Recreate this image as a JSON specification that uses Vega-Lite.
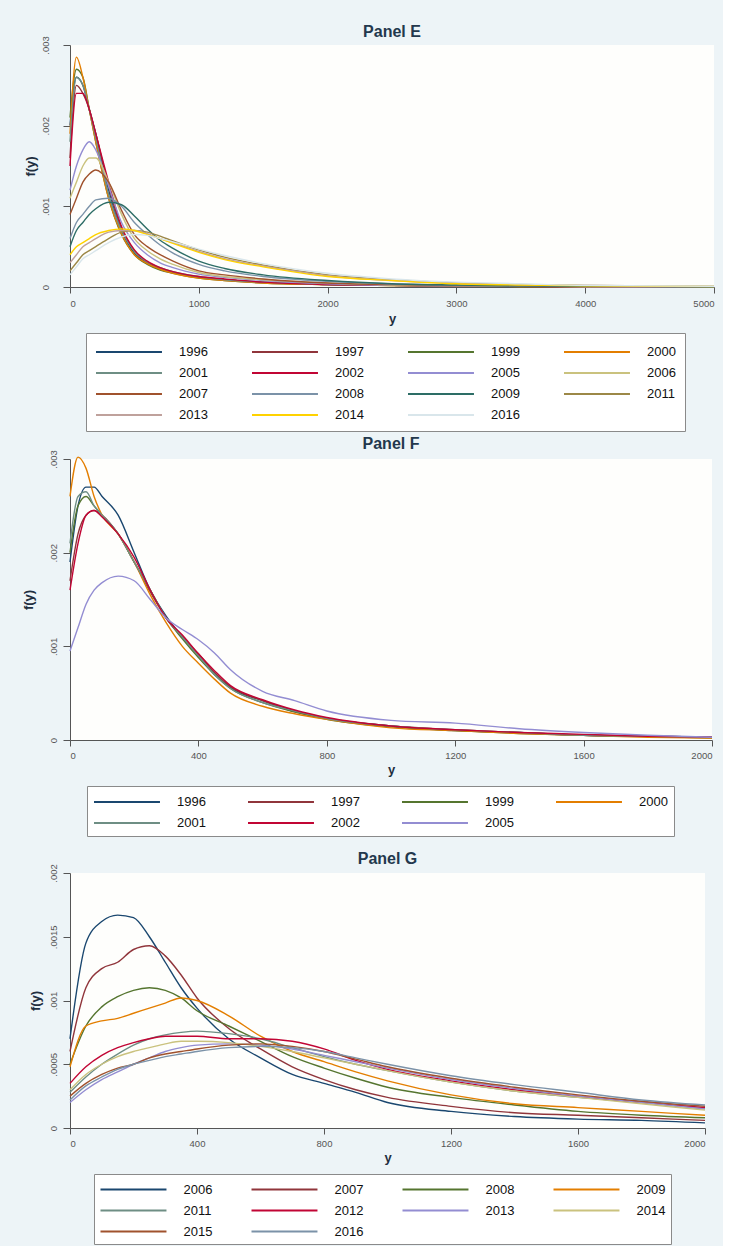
{
  "$schema": "https://vega.github.io/schema/vega-lite/v6.json",
  "background": "#edf4f7",
  "padding": {"left": 22, "top": 23, "right": 6, "bottom": 1},
  "config": {
    "font": "Liberation Sans",
    "view": {"stroke": null, "fill": "#fefefc"},
    "axis": {"grid": false, "domainColor": "#555555", "tickColor": "#555555", "labelColor": "#555555", "labelFontSize": 9.5, "titleFontSize": 13, "titleFontWeight": "bold", "titleColor": "#1f2f40", "tickSize": 6},
    "title": {"fontSize": 16, "fontWeight": "bold", "color": "#23384d", "anchor": "middle"},
    "legend": {"symbolType": "M-1,0H6.33", "symbolSize": 324, "symbolStrokeWidth": 1.8, "labelFontSize": 13, "labelColor": "#111111", "labelOffset": 64, "columns": 4, "direction": "horizontal", "rowPadding": 4, "padding": 5, "strokeColor": "#8a8a8a", "fillColor": "#ffffff", "title": null, "orient": "none"}
  },
  "datasets": {
    "E": [
      {"yr":"1996","x":0,"f":0.0020},{"yr":"1996","x":50,"f":0.0026},{"yr":"1996","x":100,"f":0.0025},{"yr":"1996","x":150,"f":0.0022},{"yr":"1996","x":200,"f":0.0019},{"yr":"1996","x":300,"f":0.0012},{"yr":"1996","x":400,"f":0.0007},{"yr":"1996","x":500,"f":0.00042},{"yr":"1996","x":600,"f":0.0003},{"yr":"1996","x":700,"f":0.00022},{"yr":"1996","x":800,"f":0.00018},{"yr":"1996","x":1000,"f":0.00012},{"yr":"1996","x":1200,"f":0.00009},{"yr":"1996","x":1500,"f":0.00006},{"yr":"1996","x":2000,"f":0.00003},{"yr":"1996","x":2500,"f":0.00002},{"yr":"1996","x":3000,"f":0.000012},{"yr":"1996","x":3500,"f":0.000008},{"yr":"1996","x":4000,"f":0.000005},{"yr":"1996","x":5000,"f":0.000002},
      {"yr":"1997","x":0,"f":0.0016},{"yr":"1997","x":50,"f":0.0025},{"yr":"1997","x":100,"f":0.0024},{"yr":"1997","x":150,"f":0.0022},{"yr":"1997","x":200,"f":0.0019},{"yr":"1997","x":300,"f":0.00125},{"yr":"1997","x":400,"f":0.00072},{"yr":"1997","x":500,"f":0.00045},{"yr":"1997","x":600,"f":0.0003},{"yr":"1997","x":700,"f":0.00023},{"yr":"1997","x":800,"f":0.00018},{"yr":"1997","x":1000,"f":0.00012},{"yr":"1997","x":1200,"f":0.00009},{"yr":"1997","x":1500,"f":0.00006},{"yr":"1997","x":2000,"f":0.00003},{"yr":"1997","x":2500,"f":0.00002},{"yr":"1997","x":3000,"f":0.000012},{"yr":"1997","x":3500,"f":0.000008},{"yr":"1997","x":4000,"f":0.000005},{"yr":"1997","x":5000,"f":0.000002},
      {"yr":"1999","x":0,"f":0.0021},{"yr":"1999","x":50,"f":0.0027},{"yr":"1999","x":100,"f":0.0026},{"yr":"1999","x":150,"f":0.0022},{"yr":"1999","x":200,"f":0.0018},{"yr":"1999","x":300,"f":0.0011},{"yr":"1999","x":400,"f":0.00065},{"yr":"1999","x":500,"f":0.0004},{"yr":"1999","x":600,"f":0.00028},{"yr":"1999","x":700,"f":0.00021},{"yr":"1999","x":800,"f":0.00017},{"yr":"1999","x":1000,"f":0.00011},{"yr":"1999","x":1200,"f":0.00008},{"yr":"1999","x":1500,"f":0.00005},{"yr":"1999","x":2000,"f":0.00003},{"yr":"1999","x":2500,"f":0.000018},{"yr":"1999","x":3000,"f":0.00001},{"yr":"1999","x":3500,"f":0.000007},{"yr":"1999","x":4000,"f":0.000004},{"yr":"1999","x":5000,"f":0.000002},
      {"yr":"2000","x":0,"f":0.0019},{"yr":"2000","x":50,"f":0.00285},{"yr":"2000","x":100,"f":0.0026},{"yr":"2000","x":150,"f":0.0022},{"yr":"2000","x":200,"f":0.0018},{"yr":"2000","x":300,"f":0.0011},{"yr":"2000","x":400,"f":0.00066},{"yr":"2000","x":500,"f":0.0004},{"yr":"2000","x":600,"f":0.00029},{"yr":"2000","x":700,"f":0.00022},{"yr":"2000","x":800,"f":0.00017},{"yr":"2000","x":1000,"f":0.00011},{"yr":"2000","x":1200,"f":0.00008},{"yr":"2000","x":1500,"f":0.00005},{"yr":"2000","x":2000,"f":0.00003},{"yr":"2000","x":2500,"f":0.000018},{"yr":"2000","x":3000,"f":0.00001},{"yr":"2000","x":3500,"f":0.000007},{"yr":"2000","x":4000,"f":0.000004},{"yr":"2000","x":5000,"f":0.000002},
      {"yr":"2001","x":0,"f":0.0018},{"yr":"2001","x":50,"f":0.0026},{"yr":"2001","x":100,"f":0.0025},{"yr":"2001","x":150,"f":0.0022},{"yr":"2001","x":200,"f":0.00185},{"yr":"2001","x":300,"f":0.00115},{"yr":"2001","x":400,"f":0.0007},{"yr":"2001","x":500,"f":0.00044},{"yr":"2001","x":600,"f":0.00031},{"yr":"2001","x":700,"f":0.00024},{"yr":"2001","x":800,"f":0.00019},{"yr":"2001","x":1000,"f":0.00013},{"yr":"2001","x":1200,"f":0.00009},{"yr":"2001","x":1500,"f":0.00006},{"yr":"2001","x":2000,"f":0.00003},{"yr":"2001","x":2500,"f":0.00002},{"yr":"2001","x":3000,"f":0.000012},{"yr":"2001","x":3500,"f":0.000008},{"yr":"2001","x":4000,"f":0.000005},{"yr":"2001","x":5000,"f":0.000002},
      {"yr":"2002","x":0,"f":0.0015},{"yr":"2002","x":50,"f":0.0024},{"yr":"2002","x":100,"f":0.0024},{"yr":"2002","x":150,"f":0.0022},{"yr":"2002","x":200,"f":0.0019},{"yr":"2002","x":300,"f":0.0013},{"yr":"2002","x":400,"f":0.00075},{"yr":"2002","x":500,"f":0.00046},{"yr":"2002","x":600,"f":0.00032},{"yr":"2002","x":700,"f":0.00024},{"yr":"2002","x":800,"f":0.00019},{"yr":"2002","x":1000,"f":0.00013},{"yr":"2002","x":1200,"f":0.0001},{"yr":"2002","x":1500,"f":0.00006},{"yr":"2002","x":2000,"f":0.00003},{"yr":"2002","x":2500,"f":0.00002},{"yr":"2002","x":3000,"f":0.000012},{"yr":"2002","x":3500,"f":0.000008},{"yr":"2002","x":4000,"f":0.000005},{"yr":"2002","x":5000,"f":0.000002},
      {"yr":"2005","x":0,"f":0.0012},{"yr":"2005","x":50,"f":0.0015},{"yr":"2005","x":100,"f":0.0017},{"yr":"2005","x":150,"f":0.0018},{"yr":"2005","x":200,"f":0.0017},{"yr":"2005","x":300,"f":0.00125},{"yr":"2005","x":400,"f":0.0008},{"yr":"2005","x":500,"f":0.00055},{"yr":"2005","x":600,"f":0.0004},{"yr":"2005","x":700,"f":0.0003},{"yr":"2005","x":800,"f":0.00024},{"yr":"2005","x":1000,"f":0.00016},{"yr":"2005","x":1200,"f":0.00012},{"yr":"2005","x":1500,"f":0.00008},{"yr":"2005","x":2000,"f":0.00004},{"yr":"2005","x":2500,"f":0.00002},{"yr":"2005","x":3000,"f":0.000015},{"yr":"2005","x":3500,"f":0.00001},{"yr":"2005","x":4000,"f":0.000006},{"yr":"2005","x":5000,"f":0.000002},
      {"yr":"2006","x":0,"f":0.0011},{"yr":"2006","x":50,"f":0.0013},{"yr":"2006","x":100,"f":0.0015},{"yr":"2006","x":150,"f":0.0016},{"yr":"2006","x":200,"f":0.0016},{"yr":"2006","x":300,"f":0.0013},{"yr":"2006","x":400,"f":0.0009},{"yr":"2006","x":500,"f":0.0006},{"yr":"2006","x":600,"f":0.00045},{"yr":"2006","x":700,"f":0.00035},{"yr":"2006","x":800,"f":0.00028},{"yr":"2006","x":1000,"f":0.00018},{"yr":"2006","x":1200,"f":0.00013},{"yr":"2006","x":1500,"f":0.00009},{"yr":"2006","x":2000,"f":0.00005},{"yr":"2006","x":2500,"f":0.000025},{"yr":"2006","x":3000,"f":0.000015},{"yr":"2006","x":3500,"f":0.00001},{"yr":"2006","x":4000,"f":0.000007},{"yr":"2006","x":5000,"f":0.000003},
      {"yr":"2007","x":0,"f":0.0009},{"yr":"2007","x":50,"f":0.0011},{"yr":"2007","x":100,"f":0.0013},{"yr":"2007","x":150,"f":0.0014},{"yr":"2007","x":200,"f":0.00145},{"yr":"2007","x":300,"f":0.0013},{"yr":"2007","x":400,"f":0.00095},{"yr":"2007","x":500,"f":0.00065},{"yr":"2007","x":600,"f":0.0005},{"yr":"2007","x":700,"f":0.0004},{"yr":"2007","x":800,"f":0.00032},{"yr":"2007","x":1000,"f":0.0002},{"yr":"2007","x":1200,"f":0.00015},{"yr":"2007","x":1500,"f":0.0001},{"yr":"2007","x":2000,"f":0.00005},{"yr":"2007","x":2500,"f":0.00003},{"yr":"2007","x":3000,"f":0.000018},{"yr":"2007","x":3500,"f":0.000012},{"yr":"2007","x":4000,"f":0.000008},{"yr":"2007","x":5000,"f":0.000003},
      {"yr":"2008","x":0,"f":0.0006},{"yr":"2008","x":50,"f":0.0008},{"yr":"2008","x":100,"f":0.0009},{"yr":"2008","x":150,"f":0.001},{"yr":"2008","x":200,"f":0.00108},{"yr":"2008","x":300,"f":0.0011},{"yr":"2008","x":400,"f":0.001},{"yr":"2008","x":500,"f":0.0008},{"yr":"2008","x":600,"f":0.00065},{"yr":"2008","x":700,"f":0.00052},{"yr":"2008","x":800,"f":0.00042},{"yr":"2008","x":1000,"f":0.00028},{"yr":"2008","x":1200,"f":0.0002},{"yr":"2008","x":1500,"f":0.00013},{"yr":"2008","x":2000,"f":0.00007},{"yr":"2008","x":2500,"f":0.00004},{"yr":"2008","x":3000,"f":0.00002},{"yr":"2008","x":3500,"f":0.000014},{"yr":"2008","x":4000,"f":0.000009},{"yr":"2008","x":5000,"f":0.000004},
      {"yr":"2009","x":0,"f":0.0005},{"yr":"2009","x":50,"f":0.0007},{"yr":"2009","x":100,"f":0.0008},{"yr":"2009","x":150,"f":0.0009},{"yr":"2009","x":200,"f":0.00097},{"yr":"2009","x":300,"f":0.00105},{"yr":"2009","x":400,"f":0.00102},{"yr":"2009","x":500,"f":0.00088},{"yr":"2009","x":600,"f":0.00072},{"yr":"2009","x":700,"f":0.00058},{"yr":"2009","x":800,"f":0.00048},{"yr":"2009","x":1000,"f":0.00032},{"yr":"2009","x":1200,"f":0.00023},{"yr":"2009","x":1500,"f":0.00015},{"yr":"2009","x":2000,"f":0.00008},{"yr":"2009","x":2500,"f":0.00004},{"yr":"2009","x":3000,"f":0.000025},{"yr":"2009","x":3500,"f":0.000015},{"yr":"2009","x":4000,"f":0.00001},{"yr":"2009","x":5000,"f":0.000004},
      {"yr":"2011","x":0,"f":0.0002},{"yr":"2011","x":50,"f":0.0003},{"yr":"2011","x":100,"f":0.0004},{"yr":"2011","x":150,"f":0.00045},{"yr":"2011","x":200,"f":0.0005},{"yr":"2011","x":300,"f":0.0006},{"yr":"2011","x":400,"f":0.00068},{"yr":"2011","x":500,"f":0.0007},{"yr":"2011","x":600,"f":0.00068},{"yr":"2011","x":700,"f":0.00063},{"yr":"2011","x":800,"f":0.00057},{"yr":"2011","x":1000,"f":0.00046},{"yr":"2011","x":1200,"f":0.00037},{"yr":"2011","x":1500,"f":0.00027},{"yr":"2011","x":2000,"f":0.00015},{"yr":"2011","x":2500,"f":0.00009},{"yr":"2011","x":3000,"f":0.00005},{"yr":"2011","x":3500,"f":0.00003},{"yr":"2011","x":4000,"f":0.00002},{"yr":"2011","x":5000,"f":0.00001},
      {"yr":"2013","x":0,"f":0.0003},{"yr":"2013","x":50,"f":0.0004},{"yr":"2013","x":100,"f":0.0005},{"yr":"2013","x":150,"f":0.00055},{"yr":"2013","x":200,"f":0.0006},{"yr":"2013","x":300,"f":0.00068},{"yr":"2013","x":400,"f":0.0007},{"yr":"2013","x":500,"f":0.0007},{"yr":"2013","x":600,"f":0.00066},{"yr":"2013","x":700,"f":0.0006},{"yr":"2013","x":800,"f":0.00055},{"yr":"2013","x":1000,"f":0.00044},{"yr":"2013","x":1200,"f":0.00035},{"yr":"2013","x":1500,"f":0.00026},{"yr":"2013","x":2000,"f":0.00014},{"yr":"2013","x":2500,"f":0.00008},{"yr":"2013","x":3000,"f":0.000045},{"yr":"2013","x":3500,"f":0.000028},{"yr":"2013","x":4000,"f":0.000018},{"yr":"2013","x":5000,"f":0.000008},
      {"yr":"2014","x":0,"f":0.0004},{"yr":"2014","x":50,"f":0.0005},{"yr":"2014","x":100,"f":0.00055},{"yr":"2014","x":150,"f":0.0006},{"yr":"2014","x":200,"f":0.00065},{"yr":"2014","x":300,"f":0.0007},{"yr":"2014","x":400,"f":0.00072},{"yr":"2014","x":500,"f":0.0007},{"yr":"2014","x":600,"f":0.00065},{"yr":"2014","x":700,"f":0.0006},{"yr":"2014","x":800,"f":0.00054},{"yr":"2014","x":1000,"f":0.00043},{"yr":"2014","x":1200,"f":0.00034},{"yr":"2014","x":1500,"f":0.00025},{"yr":"2014","x":2000,"f":0.00013},{"yr":"2014","x":2500,"f":0.00008},{"yr":"2014","x":3000,"f":0.00004},{"yr":"2014","x":3500,"f":0.000025},{"yr":"2014","x":4000,"f":0.000016},{"yr":"2014","x":5000,"f":0.000007},
      {"yr":"2016","x":0,"f":0.00015},{"yr":"2016","x":50,"f":0.00025},{"yr":"2016","x":100,"f":0.00035},{"yr":"2016","x":150,"f":0.0004},{"yr":"2016","x":200,"f":0.00045},{"yr":"2016","x":300,"f":0.00055},{"yr":"2016","x":400,"f":0.00062},{"yr":"2016","x":500,"f":0.00065},{"yr":"2016","x":600,"f":0.00064},{"yr":"2016","x":700,"f":0.0006},{"yr":"2016","x":800,"f":0.00056},{"yr":"2016","x":1000,"f":0.00047},{"yr":"2016","x":1200,"f":0.00039},{"yr":"2016","x":1500,"f":0.00029},{"yr":"2016","x":2000,"f":0.00017},{"yr":"2016","x":2500,"f":0.0001},{"yr":"2016","x":3000,"f":0.00006},{"yr":"2016","x":3500,"f":0.00004},{"yr":"2016","x":4000,"f":0.00002},{"yr":"2016","x":5000,"f":0.00001}
    ],
    "F": [
      {"yr":"1996","x":0,"f":0.0019},{"yr":"1996","x":25,"f":0.0025},{"yr":"1996","x":50,"f":0.0027},{"yr":"1996","x":75,"f":0.0027},{"yr":"1996","x":100,"f":0.0026},{"yr":"1996","x":150,"f":0.0024},{"yr":"1996","x":200,"f":0.002},{"yr":"1996","x":250,"f":0.0016},{"yr":"1996","x":300,"f":0.00132},{"yr":"1996","x":350,"f":0.0011},{"yr":"1996","x":400,"f":0.0009},{"yr":"1996","x":450,"f":0.0007},{"yr":"1996","x":500,"f":0.00056},{"yr":"1996","x":600,"f":0.00042},{"yr":"1996","x":700,"f":0.00031},{"yr":"1996","x":800,"f":0.00023},{"yr":"1996","x":1000,"f":0.00015},{"yr":"1996","x":1200,"f":0.0001},{"yr":"1996","x":1400,"f":0.00008},{"yr":"1996","x":1600,"f":0.00005},{"yr":"1996","x":1800,"f":0.00004},{"yr":"1996","x":2000,"f":0.00003},
      {"yr":"1997","x":0,"f":0.0017},{"yr":"1997","x":25,"f":0.0022},{"yr":"1997","x":50,"f":0.0024},{"yr":"1997","x":75,"f":0.00245},{"yr":"1997","x":100,"f":0.0024},{"yr":"1997","x":150,"f":0.0022},{"yr":"1997","x":200,"f":0.0019},{"yr":"1997","x":250,"f":0.00158},{"yr":"1997","x":300,"f":0.0013},{"yr":"1997","x":350,"f":0.0011},{"yr":"1997","x":400,"f":0.00092},{"yr":"1997","x":450,"f":0.00072},{"yr":"1997","x":500,"f":0.00057},{"yr":"1997","x":600,"f":0.00042},{"yr":"1997","x":700,"f":0.0003},{"yr":"1997","x":800,"f":0.00023},{"yr":"1997","x":1000,"f":0.00015},{"yr":"1997","x":1200,"f":0.00011},{"yr":"1997","x":1400,"f":0.00008},{"yr":"1997","x":1600,"f":0.00005},{"yr":"1997","x":1800,"f":0.00004},{"yr":"1997","x":2000,"f":0.00003},
      {"yr":"1999","x":0,"f":0.002},{"yr":"1999","x":25,"f":0.0025},{"yr":"1999","x":50,"f":0.0026},{"yr":"1999","x":75,"f":0.0025},{"yr":"1999","x":100,"f":0.0024},{"yr":"1999","x":150,"f":0.0022},{"yr":"1999","x":200,"f":0.0019},{"yr":"1999","x":250,"f":0.0016},{"yr":"1999","x":300,"f":0.0013},{"yr":"1999","x":350,"f":0.00108},{"yr":"1999","x":400,"f":0.00088},{"yr":"1999","x":450,"f":0.0007},{"yr":"1999","x":500,"f":0.00055},{"yr":"1999","x":600,"f":0.0004},{"yr":"1999","x":700,"f":0.0003},{"yr":"1999","x":800,"f":0.00022},{"yr":"1999","x":1000,"f":0.00014},{"yr":"1999","x":1200,"f":0.0001},{"yr":"1999","x":1400,"f":0.00007},{"yr":"1999","x":1600,"f":0.00005},{"yr":"1999","x":1800,"f":0.00004},{"yr":"1999","x":2000,"f":0.00002},
      {"yr":"2000","x":0,"f":0.0026},{"yr":"2000","x":25,"f":0.00302},{"yr":"2000","x":50,"f":0.0029},{"yr":"2000","x":75,"f":0.0026},{"yr":"2000","x":100,"f":0.0024},{"yr":"2000","x":150,"f":0.0022},{"yr":"2000","x":200,"f":0.0019},{"yr":"2000","x":250,"f":0.00155},{"yr":"2000","x":300,"f":0.00125},{"yr":"2000","x":350,"f":0.001},{"yr":"2000","x":400,"f":0.00082},{"yr":"2000","x":450,"f":0.00065},{"yr":"2000","x":500,"f":0.0005},{"yr":"2000","x":600,"f":0.00036},{"yr":"2000","x":700,"f":0.00028},{"yr":"2000","x":800,"f":0.00022},{"yr":"2000","x":1000,"f":0.00013},{"yr":"2000","x":1200,"f":0.0001},{"yr":"2000","x":1400,"f":0.00007},{"yr":"2000","x":1600,"f":0.00005},{"yr":"2000","x":1800,"f":0.00003},{"yr":"2000","x":2000,"f":0.00002},
      {"yr":"2001","x":0,"f":0.0021},{"yr":"2001","x":25,"f":0.0026},{"yr":"2001","x":50,"f":0.00265},{"yr":"2001","x":75,"f":0.0025},{"yr":"2001","x":100,"f":0.0024},{"yr":"2001","x":150,"f":0.0022},{"yr":"2001","x":200,"f":0.0019},{"yr":"2001","x":250,"f":0.0016},{"yr":"2001","x":300,"f":0.0013},{"yr":"2001","x":350,"f":0.0011},{"yr":"2001","x":400,"f":0.0009},{"yr":"2001","x":450,"f":0.0007},{"yr":"2001","x":500,"f":0.00055},{"yr":"2001","x":600,"f":0.0004},{"yr":"2001","x":700,"f":0.00031},{"yr":"2001","x":800,"f":0.00023},{"yr":"2001","x":1000,"f":0.00015},{"yr":"2001","x":1200,"f":0.00011},{"yr":"2001","x":1400,"f":0.00008},{"yr":"2001","x":1600,"f":0.00005},{"yr":"2001","x":1800,"f":0.00004},{"yr":"2001","x":2000,"f":0.00003},
      {"yr":"2002","x":0,"f":0.0016},{"yr":"2002","x":25,"f":0.0021},{"yr":"2002","x":50,"f":0.0024},{"yr":"2002","x":75,"f":0.00245},{"yr":"2002","x":100,"f":0.00238},{"yr":"2002","x":150,"f":0.0022},{"yr":"2002","x":200,"f":0.00195},{"yr":"2002","x":250,"f":0.0016},{"yr":"2002","x":300,"f":0.0013},{"yr":"2002","x":350,"f":0.00112},{"yr":"2002","x":400,"f":0.00092},{"yr":"2002","x":450,"f":0.00074},{"yr":"2002","x":500,"f":0.00058},{"yr":"2002","x":600,"f":0.00043},{"yr":"2002","x":700,"f":0.00032},{"yr":"2002","x":800,"f":0.00024},{"yr":"2002","x":1000,"f":0.00015},{"yr":"2002","x":1200,"f":0.00011},{"yr":"2002","x":1400,"f":0.00008},{"yr":"2002","x":1600,"f":0.00006},{"yr":"2002","x":1800,"f":0.00004},{"yr":"2002","x":2000,"f":0.00003},
      {"yr":"2005","x":0,"f":0.00095},{"yr":"2005","x":25,"f":0.0012},{"yr":"2005","x":50,"f":0.00145},{"yr":"2005","x":75,"f":0.0016},{"yr":"2005","x":100,"f":0.00168},{"yr":"2005","x":150,"f":0.00175},{"yr":"2005","x":200,"f":0.0017},{"yr":"2005","x":250,"f":0.0015},{"yr":"2005","x":300,"f":0.0013},{"yr":"2005","x":350,"f":0.00118},{"yr":"2005","x":400,"f":0.00107},{"yr":"2005","x":450,"f":0.00093},{"yr":"2005","x":500,"f":0.00075},{"yr":"2005","x":600,"f":0.00052},{"yr":"2005","x":700,"f":0.00042},{"yr":"2005","x":800,"f":0.00031},{"yr":"2005","x":1000,"f":0.00021},{"yr":"2005","x":1200,"f":0.00018},{"yr":"2005","x":1400,"f":0.00012},{"yr":"2005","x":1600,"f":0.00008},{"yr":"2005","x":1800,"f":0.00005},{"yr":"2005","x":2000,"f":0.00003}
    ],
    "G": [
      {"yr":"2006","x":0,"f":0.0007},{"yr":"2006","x":50,"f":0.00145},{"yr":"2006","x":100,"f":0.00162},{"yr":"2006","x":150,"f":0.00167},{"yr":"2006","x":200,"f":0.00165},{"yr":"2006","x":250,"f":0.0015},{"yr":"2006","x":300,"f":0.0013},{"yr":"2006","x":350,"f":0.0011},{"yr":"2006","x":400,"f":0.00094},{"yr":"2006","x":500,"f":0.0007},{"yr":"2006","x":600,"f":0.00055},{"yr":"2006","x":700,"f":0.00042},{"yr":"2006","x":800,"f":0.00035},{"yr":"2006","x":900,"f":0.00028},{"yr":"2006","x":1000,"f":0.0002},{"yr":"2006","x":1200,"f":0.00013},{"yr":"2006","x":1400,"f":0.00009},{"yr":"2006","x":1600,"f":0.00007},{"yr":"2006","x":1800,"f":0.00006},{"yr":"2006","x":2000,"f":0.00004},
      {"yr":"2007","x":0,"f":0.0006},{"yr":"2007","x":50,"f":0.0011},{"yr":"2007","x":100,"f":0.00125},{"yr":"2007","x":150,"f":0.0013},{"yr":"2007","x":200,"f":0.0014},{"yr":"2007","x":250,"f":0.00143},{"yr":"2007","x":300,"f":0.00135},{"yr":"2007","x":350,"f":0.0012},{"yr":"2007","x":400,"f":0.00102},{"yr":"2007","x":500,"f":0.00078},{"yr":"2007","x":600,"f":0.00062},{"yr":"2007","x":700,"f":0.00048},{"yr":"2007","x":800,"f":0.00038},{"yr":"2007","x":900,"f":0.0003},{"yr":"2007","x":1000,"f":0.00024},{"yr":"2007","x":1200,"f":0.00017},{"yr":"2007","x":1400,"f":0.00012},{"yr":"2007","x":1600,"f":0.0001},{"yr":"2007","x":1800,"f":0.00008},{"yr":"2007","x":2000,"f":0.00006},
      {"yr":"2008","x":0,"f":0.0005},{"yr":"2008","x":50,"f":0.0008},{"yr":"2008","x":100,"f":0.00095},{"yr":"2008","x":150,"f":0.00103},{"yr":"2008","x":200,"f":0.00108},{"yr":"2008","x":250,"f":0.0011},{"yr":"2008","x":300,"f":0.00108},{"yr":"2008","x":350,"f":0.00102},{"yr":"2008","x":400,"f":0.00092},{"yr":"2008","x":500,"f":0.0008},{"yr":"2008","x":600,"f":0.00068},{"yr":"2008","x":700,"f":0.00056},{"yr":"2008","x":800,"f":0.00047},{"yr":"2008","x":900,"f":0.00039},{"yr":"2008","x":1000,"f":0.00032},{"yr":"2008","x":1200,"f":0.00024},{"yr":"2008","x":1400,"f":0.00018},{"yr":"2008","x":1600,"f":0.00013},{"yr":"2008","x":1800,"f":0.0001},{"yr":"2008","x":2000,"f":0.00008},
      {"yr":"2009","x":0,"f":0.00048},{"yr":"2009","x":50,"f":0.0008},{"yr":"2009","x":100,"f":0.00084},{"yr":"2009","x":150,"f":0.00086},{"yr":"2009","x":200,"f":0.0009},{"yr":"2009","x":250,"f":0.00094},{"yr":"2009","x":300,"f":0.00098},{"yr":"2009","x":350,"f":0.00102},{"yr":"2009","x":400,"f":0.001},{"yr":"2009","x":500,"f":0.00088},{"yr":"2009","x":600,"f":0.00072},{"yr":"2009","x":700,"f":0.0006},{"yr":"2009","x":800,"f":0.00052},{"yr":"2009","x":900,"f":0.00044},{"yr":"2009","x":1000,"f":0.00037},{"yr":"2009","x":1200,"f":0.00026},{"yr":"2009","x":1400,"f":0.00019},{"yr":"2009","x":1600,"f":0.00016},{"yr":"2009","x":1800,"f":0.00013},{"yr":"2009","x":2000,"f":0.0001},
      {"yr":"2011","x":0,"f":0.00028},{"yr":"2011","x":50,"f":0.0004},{"yr":"2011","x":100,"f":0.0005},{"yr":"2011","x":150,"f":0.00058},{"yr":"2011","x":200,"f":0.00065},{"yr":"2011","x":250,"f":0.0007},{"yr":"2011","x":300,"f":0.00073},{"yr":"2011","x":350,"f":0.00075},{"yr":"2011","x":400,"f":0.00076},{"yr":"2011","x":500,"f":0.00074},{"yr":"2011","x":600,"f":0.0007},{"yr":"2011","x":700,"f":0.00063},{"yr":"2011","x":800,"f":0.00056},{"yr":"2011","x":900,"f":0.0005},{"yr":"2011","x":1000,"f":0.00045},{"yr":"2011","x":1200,"f":0.00036},{"yr":"2011","x":1400,"f":0.00029},{"yr":"2011","x":1600,"f":0.00024},{"yr":"2011","x":1800,"f":0.0002},{"yr":"2011","x":2000,"f":0.00015},
      {"yr":"2012","x":0,"f":0.00035},{"yr":"2012","x":50,"f":0.00048},{"yr":"2012","x":100,"f":0.00057},{"yr":"2012","x":150,"f":0.00063},{"yr":"2012","x":200,"f":0.00067},{"yr":"2012","x":250,"f":0.0007},{"yr":"2012","x":300,"f":0.00072},{"yr":"2012","x":350,"f":0.00072},{"yr":"2012","x":400,"f":0.00072},{"yr":"2012","x":500,"f":0.0007},{"yr":"2012","x":600,"f":0.0007},{"yr":"2012","x":700,"f":0.00068},{"yr":"2012","x":800,"f":0.00062},{"yr":"2012","x":900,"f":0.00053},{"yr":"2012","x":1000,"f":0.00046},{"yr":"2012","x":1200,"f":0.00037},{"yr":"2012","x":1400,"f":0.0003},{"yr":"2012","x":1600,"f":0.00025},{"yr":"2012","x":1800,"f":0.0002},{"yr":"2012","x":2000,"f":0.00016},
      {"yr":"2013","x":0,"f":0.0002},{"yr":"2013","x":50,"f":0.0003},{"yr":"2013","x":100,"f":0.00038},{"yr":"2013","x":150,"f":0.00044},{"yr":"2013","x":200,"f":0.0005},{"yr":"2013","x":250,"f":0.00055},{"yr":"2013","x":300,"f":0.0006},{"yr":"2013","x":350,"f":0.00063},{"yr":"2013","x":400,"f":0.00065},{"yr":"2013","x":500,"f":0.00066},{"yr":"2013","x":600,"f":0.00065},{"yr":"2013","x":700,"f":0.00062},{"yr":"2013","x":800,"f":0.00057},{"yr":"2013","x":900,"f":0.00052},{"yr":"2013","x":1000,"f":0.00047},{"yr":"2013","x":1200,"f":0.00038},{"yr":"2013","x":1400,"f":0.00031},{"yr":"2013","x":1600,"f":0.00025},{"yr":"2013","x":1800,"f":0.0002},{"yr":"2013","x":2000,"f":0.00015},
      {"yr":"2014","x":0,"f":0.0003},{"yr":"2014","x":50,"f":0.00042},{"yr":"2014","x":100,"f":0.0005},{"yr":"2014","x":150,"f":0.00056},{"yr":"2014","x":200,"f":0.0006},{"yr":"2014","x":250,"f":0.00063},{"yr":"2014","x":300,"f":0.00066},{"yr":"2014","x":350,"f":0.00068},{"yr":"2014","x":400,"f":0.00068},{"yr":"2014","x":500,"f":0.00067},{"yr":"2014","x":600,"f":0.00064},{"yr":"2014","x":700,"f":0.0006},{"yr":"2014","x":800,"f":0.00055},{"yr":"2014","x":900,"f":0.0005},{"yr":"2014","x":1000,"f":0.00045},{"yr":"2014","x":1200,"f":0.00036},{"yr":"2014","x":1400,"f":0.00029},{"yr":"2014","x":1600,"f":0.00024},{"yr":"2014","x":1800,"f":0.00019},{"yr":"2014","x":2000,"f":0.00014},
      {"yr":"2015","x":0,"f":0.00025},{"yr":"2015","x":50,"f":0.00035},{"yr":"2015","x":100,"f":0.00042},{"yr":"2015","x":150,"f":0.00047},{"yr":"2015","x":200,"f":0.0005},{"yr":"2015","x":250,"f":0.00055},{"yr":"2015","x":300,"f":0.00058},{"yr":"2015","x":350,"f":0.0006},{"yr":"2015","x":400,"f":0.00062},{"yr":"2015","x":500,"f":0.00065},{"yr":"2015","x":600,"f":0.00066},{"yr":"2015","x":700,"f":0.00064},{"yr":"2015","x":800,"f":0.0006},{"yr":"2015","x":900,"f":0.00054},{"yr":"2015","x":1000,"f":0.00048},{"yr":"2015","x":1200,"f":0.00039},{"yr":"2015","x":1400,"f":0.00032},{"yr":"2015","x":1600,"f":0.00026},{"yr":"2015","x":1800,"f":0.00021},{"yr":"2015","x":2000,"f":0.00017},
      {"yr":"2016","x":0,"f":0.00022},{"yr":"2016","x":50,"f":0.00033},{"yr":"2016","x":100,"f":0.0004},{"yr":"2016","x":150,"f":0.00046},{"yr":"2016","x":200,"f":0.0005},{"yr":"2016","x":250,"f":0.00053},{"yr":"2016","x":300,"f":0.00056},{"yr":"2016","x":350,"f":0.00058},{"yr":"2016","x":400,"f":0.0006},{"yr":"2016","x":500,"f":0.00063},{"yr":"2016","x":600,"f":0.00064},{"yr":"2016","x":700,"f":0.00063},{"yr":"2016","x":800,"f":0.0006},{"yr":"2016","x":900,"f":0.00055},{"yr":"2016","x":1000,"f":0.0005},{"yr":"2016","x":1200,"f":0.00041},{"yr":"2016","x":1400,"f":0.00034},{"yr":"2016","x":1600,"f":0.00028},{"yr":"2016","x":1800,"f":0.00022},{"yr":"2016","x":2000,"f":0.00018}
    ]
  },
  "resolve": {"scale": {"color": "independent"}, "legend": {"color": "independent"}},
  "spacing": 13,
  "vconcat": [
    {
      "spacing": 3,
      "resolve": {"scale": {"color": "independent"}, "legend": {"color": "independent"}},
      "vconcat": [
        {
          "title": {"text": "Panel E", "offset": -4},
          "width": 644, "height": 242,
          "data": {"name": "E"},
          "mark": {"type": "line", "strokeWidth": 1.4, "interpolate": "monotone"},
          "encoding": {
            "x": {"field": "x", "type": "quantitative", "scale": {"domain": [0, 5000], "nice": false}, "axis": {"values": [0, 1000, 2000, 3000, 4000, 5000], "format": "d", "title": "y", "labelPadding": 5, "titlePadding": 5}},
            "y": {"field": "f", "type": "quantitative", "scale": {"domain": [0, 0.003], "nice": false}, "axis": {"values": [0, 0.001, 0.002, 0.003], "labelExpr": "datum.value == 0 ? '0' : replace(format(datum.value, '~r'), '0.', '.')", "labelAngle": -90, "title": "f(y)", "tickSize": 7, "labelPadding": 13, "titlePadding": 3}},
            "color": {"field": "yr", "type": "nominal", "scale": {"domain": ["1996","1997","1999","2000","2001","2002","2005","2006","2007","2008","2009","2011","2013","2014","2016"], "range": ["#1a476f","#90353b","#55752f","#e37e00","#6e8e84","#c10534","#938dd2","#cac27e","#a0522d","#7b92a8","#2d6d66","#9c8847","#bfa19c","#ffd200","#d9e6eb"]}, "legend": {"legendX": 16, "legendY": 288, "columnPadding": 40, "padding": 9}}
          }
        },
        {
          "title": {"text": "Panel F", "offset": -2},
          "width": 642, "height": 281,
          "data": {"name": "F"},
          "mark": {"type": "line", "strokeWidth": 1.4, "interpolate": "monotone"},
          "encoding": {
            "x": {"field": "x", "type": "quantitative", "scale": {"domain": [0, 2000], "nice": false}, "axis": {"values": [0, 400, 800, 1200, 1600, 2000], "format": "d", "title": "y", "labelPadding": 4, "titlePadding": 4}},
            "y": {"field": "f", "type": "quantitative", "scale": {"domain": [0, 0.003], "nice": false}, "axis": {"values": [0, 0.001, 0.002, 0.003], "labelExpr": "datum.value == 0 ? '0' : replace(format(datum.value, '~r'), '0.', '.')", "labelAngle": -90, "title": "f(y)", "tickSize": 7, "labelPadding": 5, "titlePadding": 13}},
            "color": {"field": "yr", "type": "nominal", "scale": {"domain": ["1996","1997","1999","2000","2001","2002","2005"], "range": ["#1a476f","#90353b","#55752f","#e37e00","#6e8e84","#c10534","#938dd2"]}, "legend": {"legendX": 17, "legendY": 327, "columnPadding": 38, "padding": 6}}
          }
        }
      ]
    },
    {
      "title": {"text": "Panel G", "offset": -3},
      "width": 635, "height": 255,
      "data": {"name": "G"},
      "mark": {"type": "line", "strokeWidth": 1.4, "interpolate": "monotone"},
      "encoding": {
        "x": {"field": "x", "type": "quantitative", "scale": {"domain": [0, 2000], "nice": false}, "axis": {"values": [0, 400, 800, 1200, 1600, 2000], "format": "d", "title": "y", "labelPadding": 4, "titlePadding": 4}},
        "y": {"field": "f", "type": "quantitative", "scale": {"domain": [0, 0.002], "nice": false}, "axis": {"values": [0, 0.0005, 0.001, 0.0015, 0.002], "labelExpr": "datum.value == 0 ? '0' : replace(format(datum.value, '~r'), '0.', '.')", "labelAngle": -90, "title": "f(y)", "tickSize": 7, "labelPadding": 5, "titlePadding": 6}},
        "color": {"field": "yr", "type": "nominal", "scale": {"domain": ["2006","2007","2008","2009","2011","2012","2013","2014","2015","2016"], "range": ["#1a476f","#90353b","#55752f","#e37e00","#6e8e84","#c10534","#938dd2","#cac27e","#a0522d","#7b92a8"]}, "legend": {"legendX": 24, "legendY": 301, "columnPadding": 35, "rowPadding": 4, "padding": 5.5}}
      }
    }
  ]
}
